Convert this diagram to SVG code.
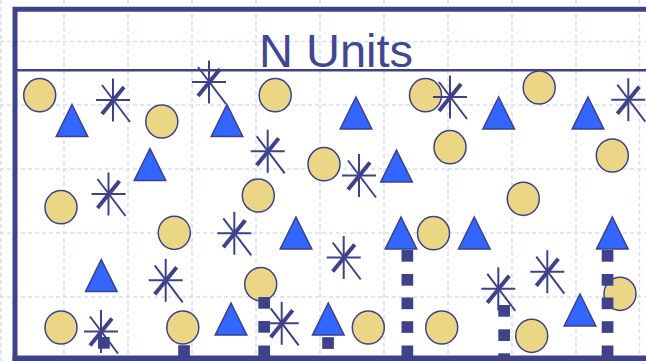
<svg xmlns="http://www.w3.org/2000/svg" xmlns:xlink="http://www.w3.org/1999/xlink" width="646" height="361" viewBox="0 0 646 361">
<style>
.grid{stroke:#d5def5;stroke-width:1.5;stroke-dasharray:4 3;fill:none}
.frame{stroke:#3e428b;fill:none}
.circ{fill:#ebd686;stroke:#3e428b;stroke-width:1.5}
.tri{fill:#3366ff;stroke:#3e428b;stroke-width:1.5;stroke-linejoin:miter}
.sq{fill:#3e428b}
.thin{stroke:#3e428b;stroke-width:2;fill:none}
.thick{stroke:#3e428b;stroke-width:4;fill:none}
.title{font-family:"Liberation Sans",Arial,sans-serif;font-size:47px;fill:#414791}
</style>
<defs>
<ellipse id="c" cx="0" cy="0" rx="16" ry="16.6" class="circ"/>
<polygon id="t" points="0,1.5 15.8,33.6 -15.8,33.6" class="tri"/>
<g id="a">
<line class="thin" x1="0" y1="-21.5" x2="0" y2="21.5"/>
<line class="thin" x1="-17" y1="0" x2="17" y2="0"/>
<line class="thin" x1="-11" y1="-15" x2="17" y2="22"/>
<line class="thick" x1="-11" y1="14" x2="11" y2="-13"/>
</g>
<rect id="s" x="0" y="0" width="11.7" height="11.7" class="sq"/>
</defs>
<rect width="646" height="361" fill="#ffffff"/>
<g id="grid" class="grid">
<path d="M1,0V361M64,0V361M128,0V361M192,0V361M256,0V361M320,0V361M384,0V361M448,0V361M512,0V361M576,0V361M639.5,0V361"/>
<path d="M0,41.5H646M0,105H646M0,169H646M0,233H646M0,297H646"/>
</g>
<g id="frame">
<path class="frame" d="M15,361V9.3H646" stroke-width="5"/>
<path class="frame" d="M12.5,358.3H646" stroke-width="5.6"/>
<path class="frame" d="M15,70.3H646" stroke-width="2.5"/>
</g>
<g id="title"><text class="title" x="259" y="66.5">N Units</text></g>
<g id="circles">
<use xlink:href="#c" x="39.7" y="95.2"/>
<use xlink:href="#c" x="161.8" y="121.5"/>
<use xlink:href="#c" x="275.2" y="95.2"/>
<use xlink:href="#c" x="425.5" y="95.2"/>
<use xlink:href="#c" x="324" y="164.2"/>
<use xlink:href="#c" x="258.3" y="195.5"/>
<use xlink:href="#c" x="450" y="147.2"/>
<use xlink:href="#c" x="539.2" y="87.5"/>
<use xlink:href="#c" x="612.3" y="155.5"/>
<use xlink:href="#c" x="61" y="207.2"/>
<use xlink:href="#c" x="174.3" y="232.8"/>
<use xlink:href="#c" x="61" y="327.5"/>
<use xlink:href="#c" x="182.8" y="327.5"/>
<use xlink:href="#c" x="433.5" y="233.2"/>
<use xlink:href="#c" x="260.7" y="284.2"/>
<use xlink:href="#c" x="368.3" y="327.5"/>
<use xlink:href="#c" x="441.7" y="327.5"/>
<use xlink:href="#c" x="523.3" y="198.8"/>
<use xlink:href="#c" x="620" y="293.8"/>
<use xlink:href="#c" x="531.7" y="335.8"/>
</g>
<g id="triangles">
<use xlink:href="#t" x="72" y="103"/>
<use xlink:href="#t" x="150" y="147"/>
<use xlink:href="#t" x="227" y="103"/>
<use xlink:href="#t" x="356" y="95.5"/>
<use xlink:href="#t" x="396.5" y="148.5"/>
<use xlink:href="#t" x="498.7" y="95.5"/>
<use xlink:href="#t" x="588" y="95.5"/>
<use xlink:href="#t" x="101.3" y="258"/>
<use xlink:href="#t" x="296" y="215.5"/>
<use xlink:href="#t" x="401" y="215.5"/>
<use xlink:href="#t" x="474.3" y="215.5"/>
<use xlink:href="#t" x="612.3" y="215.5"/>
<use xlink:href="#t" x="231" y="301.5"/>
<use xlink:href="#t" x="328.3" y="301.5"/>
<use xlink:href="#t" x="580" y="292.5"/>
</g>
<g id="asterisks">
<use xlink:href="#a" x="113" y="100"/>
<use xlink:href="#a" x="209" y="82"/>
<use xlink:href="#a" x="267.7" y="151.3"/>
<use xlink:href="#a" x="359" y="175.5"/>
<use xlink:href="#a" x="450" y="97"/>
<use xlink:href="#a" x="628.3" y="99.7"/>
<use xlink:href="#a" x="108.5" y="194"/>
<use xlink:href="#a" x="165.7" y="280.3"/>
<use xlink:href="#a" x="101" y="331.5"/>
<use xlink:href="#a" x="234.3" y="233.3"/>
<use xlink:href="#a" x="343.7" y="257.5"/>
<use xlink:href="#a" x="281.7" y="323.3"/>
<use xlink:href="#a" x="547.3" y="271.7"/>
<use xlink:href="#a" x="498.3" y="288.8"/>
</g>
<g id="squares">
<use xlink:href="#s" x="401.5" y="250"/>
<use xlink:href="#s" x="401.5" y="274"/>
<use xlink:href="#s" x="401.5" y="297.5"/>
<use xlink:href="#s" x="401.5" y="321.2"/>
<use xlink:href="#s" x="401.5" y="345.5"/>
<use xlink:href="#s" x="601.7" y="250"/>
<use xlink:href="#s" x="601.7" y="274"/>
<use xlink:href="#s" x="601.7" y="297.5"/>
<use xlink:href="#s" x="601.7" y="321.2"/>
<use xlink:href="#s" x="601.7" y="345.5"/>
<use xlink:href="#s" x="258.3" y="297"/>
<use xlink:href="#s" x="258.3" y="321"/>
<use xlink:href="#s" x="258.3" y="345.5"/>
<use xlink:href="#s" x="498.3" y="305"/>
<use xlink:href="#s" x="498.3" y="329.3"/>
<use xlink:href="#s" x="498.3" y="353.3"/>
<use xlink:href="#s" x="98" y="337"/>
<use xlink:href="#s" x="178.2" y="345.2"/>
<use xlink:href="#s" x="322.2" y="337.2"/>
</g>
</svg>
